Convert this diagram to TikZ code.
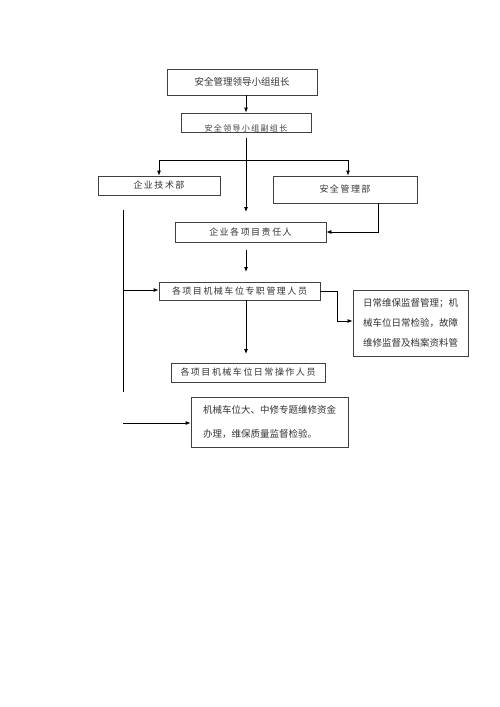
\documentclass[tikz,border=0pt]{standalone}
\usepackage{fontspec}
\setmainfont{Noto Sans CJK SC}
\usetikzlibrary{arrows.meta}
\tikzset{
  boxn/.style={draw=black!75, line width=0.8pt, inner sep=0pt, font=\fontsize{9}{11}\selectfont, text=black!80},
  conn/.style={draw=black, line width=0.8pt},
  arr/.style={conn, -{Latex[length=5pt,width=4pt]}},
}
\begin{document}
\begin{tikzpicture}[x=1pt,y=-1pt]
\useasboundingbox[fill=white] (0,0) rectangle (500,707);
% boxes
\node[boxn, minimum width=150pt, minimum height=26pt, font=\fontsize{9.5}{11}\selectfont] (b1) at (242,82) {安全管理领导小组组长};
\node[boxn, minimum width=130pt, minimum height=19pt] (b2) at (246,122.5) {};
\node[font=\fontsize{8}{9}\selectfont, text=black!75, anchor=base] (b2t) at (246,131) {安\,全\,领\,导\,小\,组\,副\,组\,长};
\node[boxn, minimum width=122pt, minimum height=19pt] (tech) at (159,185.5) {企\,业\,技\,术\,部};
\node[boxn, minimum width=144pt, minimum height=27pt] (safe) at (345,189.5) {安\,全\,管\,理\,部};
\node[boxn, minimum width=151pt, minimum height=20pt] (resp) at (250.5,232) {企\,业\,各\,项\,目\,责\,任\,人};
\node[boxn, minimum width=161pt, minimum height=18pt] (mgr) at (239.5,291) {各\,项\,目\,机\,械\,车\,位\,专\,职\,管\,理\,人\,员};
\node[boxn, minimum width=115pt, minimum height=66pt, align=left, font=\fontsize{9.5}{20}\selectfont] (daily) at (410.5,323) {日常维保监督管理；机\\械车位日常检验，故障\\维修监督及档案资料管};
\node[boxn, minimum width=154pt, minimum height=19pt] (op) at (248,372.5) {各\,项\,目\,机\,械\,车\,位\,日\,常\,操\,作\,人\,员};
\node[boxn, minimum width=157pt, minimum height=50pt, align=left, font=\fontsize{9.5}{24}\selectfont] (fund) at (269.5,422) {机械车位大、中修专题维修资金\\办理，维保质量监督检验。};
% coordinates
\coordinate (m0) at (246,138);
\coordinate (m1) at (246,212);
\coordinate (bl) at (159,160);
\coordinate (br) at (348,160);
\coordinate (lv0) at (123,210);
\coordinate (lv1) at (123,392);
\coordinate (lh) at (123,290);
\coordinate (rv1) at (378,232);
\coordinate (f0) at (123,423);
\coordinate (r0) at (246,250);
\coordinate (r1) at (246,272);
\coordinate (o0) at (246,300);
\coordinate (o1) at (246,354);
\coordinate (d0) at (337,291);
\coordinate (d1) at (337,321);
% connectors
\draw[arr] (b1.south -| b2.north) -- (b2.north);
\draw[arr] (m0) -- (m1);
\draw[arr] (bl -| b2.north) -- (bl) -- (bl |- tech.north);
\draw[arr] (bl -| b2.north) -- (br) -- (br |- safe.north);
\draw[conn] (lv0) -- (lv1);
\draw[arr] (lh) -- (lh -| mgr.west);
\draw[arr] (safe.south -| rv1) -- (rv1) -- (rv1 -| resp.east);
\draw[arr] (r0) -- (r1);
\draw[arr] (mgr.east) -- (d0) -- (d1) -- (d1 -| daily.west);
\draw[arr] (o0) -- (o1);
\draw[arr] (f0) -- (f0 -| fund.west);
\end{tikzpicture}
\end{document}
